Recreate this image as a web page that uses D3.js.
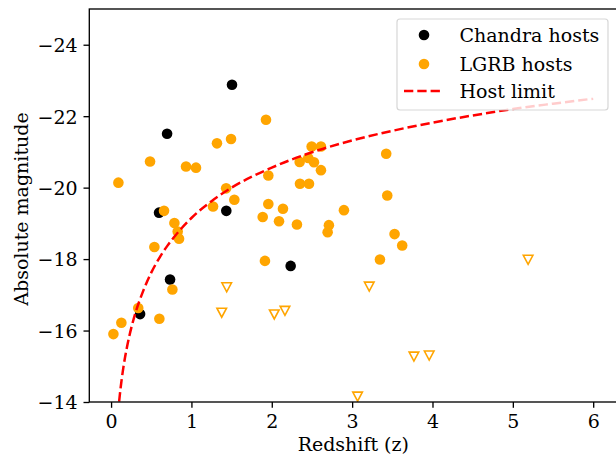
<!DOCTYPE html>
<html>
<head>
<meta charset="utf-8">
<script src="https://cdn.jsdelivr.net/npm/d3@7"></script>
<style>
  html, body { margin: 0; padding: 0; background: #ffffff; }
  svg { display: block; }
  text { font-family: "DejaVu Serif", serif; fill: #000; }
</style>
</head>
<body>
<svg id="chart" width="616" height="455"></svg>
<script>
// Chandra-detected hosts: redshift and absolute magnitude
const chandraZ = [0.361, 0.597, 0.697, 0.734, 1.434, 1.505, 2.235];
const chandraM = [-16.46, -19.30, -21.51, -17.43, -19.35, -22.88, -17.81];

// LGRB host detections
const lgrbZ = [0.029, 0.091, 0.128, 0.338, 0.485, 0.539, 0.601, 0.659, 0.763, 0.788,
               0.829, 0.846, 0.933, 1.057, 1.269, 1.318, 1.432, 1.493, 1.534, 1.887,
               1.915, 1.928, 1.957, 1.957, 2.090, 2.139, 2.313, 2.347, 2.351, 2.454,
               2.463, 2.496, 2.525, 2.612, 2.612, 2.695, 2.711, 2.898, 3.346, 3.424,
               3.437, 3.528, 3.623];
const lgrbM = [-15.90, -20.14, -16.22, -16.63, -20.73, -18.34, -16.33, -19.35, -17.15, -19.01,
               -18.77, -18.57, -20.59, -20.56, -19.47, -21.24, -19.98, -21.36, -19.66, -19.18,
               -17.95, -21.90, -20.34, -19.54, -19.06, -19.41, -18.97, -20.72, -20.11, -20.83,
               -20.11, -21.15, -20.71, -21.15, -20.49, -18.75, -18.95, -19.37, -17.99, -20.95,
               -19.78, -18.70, -18.38];

// LGRB host upper limits (non-detections)
const limitHostZ = [1.377, 1.439, 2.031, 2.164, 3.068, 3.213, 3.769, 3.959, 5.190];
const limitHostM = [-16.50, -17.21, -16.45, -16.55, -14.15, -17.23, -15.27, -15.30, -17.98];

// Host detection limit curve
const curveZ = [0.10, 0.12, 0.15, 0.20, 0.25, 0.30, 0.40, 0.50, 0.60, 0.70, 0.80, 1.00,
                1.25, 1.50, 2.00, 2.50, 3.00, 3.50, 4.00, 4.50, 5.00, 5.50, 6.00];
const curveM = [-14.01, -14.42, -14.92, -15.56, -16.06, -16.47, -17.11, -17.62, -18.03, -18.37,
                -18.66, -19.15, -19.62, -20.00, -20.56, -20.99, -21.32, -21.59, -21.82, -22.02,
                -22.20, -22.35, -22.49];

// Axis ticks and legend entries
const xTicks = [0, 1, 2, 3, 4, 5, 6];
const yTicks = [-14, -16, -18, -20, -22, -24];
const legendLabels = ["Chandra hosts", "LGRB hosts", "Host limit"];

const ORANGE = "#ffa500";
const FONT = 19;

const svg = d3.select("#chart");
const plot = { left: 89.3, right: 617.3, top: 9, bottom: 402 };

const x = d3.scaleLinear().domain([-0.271, 6.3]).range([plot.left, plot.right]);
const y = d3.scaleLinear().domain([-14, -25]).range([plot.bottom, plot.top]);

svg.append("defs").append("clipPath").attr("id", "plotClip")
  .append("rect")
  .attr("x", plot.left).attr("y", plot.top)
  .attr("width", plot.right - plot.left).attr("height", plot.bottom - plot.top);

const fmt = d => (d < 0 ? "\u2212" + Math.abs(d) : String(d));

// axes
const xAxis = d3.axisBottom(x).tickValues(xTicks).tickFormat(fmt)
  .tickSizeInner(5.8).tickSizeOuter(0).tickPadding(5.8);
const yAxis = d3.axisLeft(y).tickValues(yTicks).tickFormat(fmt)
  .tickSizeInner(5.8).tickSizeOuter(0).tickPadding(5.8);

const gx = svg.append("g").attr("transform", `translate(0,${plot.bottom})`).call(xAxis);
const gy = svg.append("g").attr("transform", `translate(${plot.left},0)`).call(yAxis);
[gx, gy].forEach(g => {
  g.select(".domain").remove();
  g.selectAll(".tick line").attr("stroke", "#000").attr("stroke-width", 1.33);
  g.selectAll(".tick text").attr("font-family", "DejaVu Serif").attr("font-size", FONT).attr("fill", "#000");
});
gx.selectAll(".tick text").attr("dy", "0.76em");
gy.selectAll(".tick text").attr("dy", "0.36em");

const body = svg.append("g").attr("clip-path", "url(#plotClip)");

// Chandra hosts
body.append("g").selectAll("circle")
  .data(chandraZ.map((z, i) => [z, chandraM[i]]))
  .join("circle")
  .attr("cx", d => x(d[0])).attr("cy", d => y(d[1]))
  .attr("r", 5.3).attr("fill", "#000");

// LGRB hosts
body.append("g").selectAll("circle")
  .data(lgrbZ.map((z, i) => [z, lgrbM[i]]))
  .join("circle")
  .attr("cx", d => x(d[0])).attr("cy", d => y(d[1]))
  .attr("r", 5.3).attr("fill", ORANGE);

// upper limits as open downward triangles
const triW = 9.6, triH = 9;
const triPath = `M${-triW / 2},${-triH / 2}L${triW / 2},${-triH / 2}L0,${triH / 2}Z`;
body.append("g").selectAll("path")
  .data(limitHostZ.map((z, i) => [z, limitHostM[i]]))
  .join("path")
  .attr("d", triPath)
  .attr("transform", d => `translate(${x(d[0])},${y(d[1])})`)
  .attr("fill", "#fff").attr("stroke", ORANGE).attr("stroke-width", 1.6);

// host limit curve
const line = d3.line().x(d => x(d[0])).y(d => y(d[1])).curve(d3.curveMonotoneX);
body.append("path")
  .datum(curveZ.map((z, i) => [z, curveM[i]]))
  .attr("d", line)
  .attr("fill", "none").attr("stroke", "#ff0000")
  .attr("stroke-width", 2.5).attr("stroke-dasharray", "9.3,4");

// spines
svg.append("rect")
  .attr("x", plot.left).attr("y", plot.top)
  .attr("width", plot.right - plot.left).attr("height", plot.bottom - plot.top)
  .attr("fill", "none").attr("stroke", "#000").attr("stroke-width", 1.33);

// axis labels
svg.append("text")
  .attr("x", (plot.left + plot.right) / 2).attr("y", 451)
  .attr("text-anchor", "middle").attr("font-size", FONT)
  .text("Redshift (z)");
svg.append("text")
  .attr("transform", `translate(28.3,209) rotate(-90)`)
  .attr("text-anchor", "middle").attr("font-size", FONT)
  .text("Absolute magnitude");

// legend
const legend = svg.append("g");
legend.append("rect")
  .attr("x", 397).attr("y", 19).attr("width", 211).attr("height", 91)
  .attr("rx", 3).attr("ry", 3)
  .attr("fill", "#fff").attr("fill-opacity", 0.8)
  .attr("stroke", "#cccccc").attr("stroke-opacity", 0.8).attr("stroke-width", 1.2);

const rowY = [35, 64, 91];
legend.append("circle").attr("cx", 424).attr("cy", rowY[0]).attr("r", 5.3).attr("fill", "#000");
legend.append("circle").attr("cx", 424).attr("cy", rowY[1]).attr("r", 5.3).attr("fill", ORANGE);
legend.append("line")
  .attr("x1", 404).attr("x2", 443).attr("y1", rowY[2]).attr("y2", rowY[2])
  .attr("stroke", "#ff0000").attr("stroke-width", 2.5).attr("stroke-dasharray", "9.3,4");
legend.selectAll("text.lbl")
  .data(legendLabels)
  .join("text")
  .attr("class", "lbl")
  .attr("x", 459.5).attr("y", (d, i) => rowY[i])
  .attr("dy", "0.36em").attr("font-size", FONT)
  .text(d => d);
</script>
</body>
</html>
